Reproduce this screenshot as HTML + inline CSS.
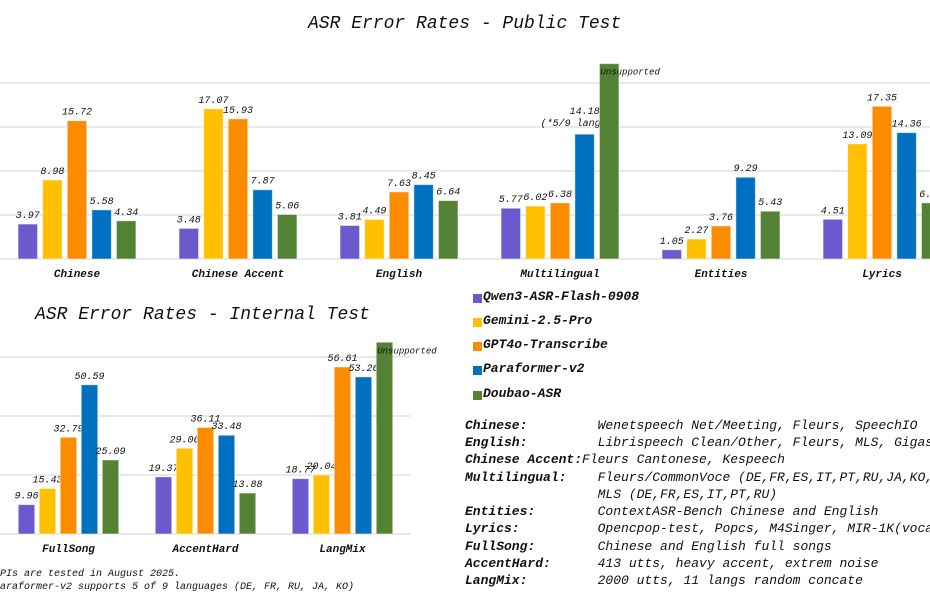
<!DOCTYPE html>
<html><head><meta charset="utf-8">
<style>
html,body{margin:0;padding:0;background:#fff;}
body{width:930px;height:602px;overflow:hidden;position:relative;font-family:"Liberation Mono",monospace;font-style:italic;color:#111;}
.abs{position:absolute;white-space:pre;}
.title{font-size:18px;}
.leg{font-size:13px;font-weight:bold;}
.sw{position:absolute;width:9px;height:9px;}
.desc{font-size:13px;}
.foot{font-size:10px;}
</style></head><body>
<div class="abs title" style="left:308px;top:14px;">ASR Error Rates - Public Test</div>
<div class="abs title" style="left:35px;top:305px;">ASR Error Rates - Internal Test</div>
<svg id="chart" width="930" height="602" style="position:absolute;left:0;top:0"></svg>

<div>
<div class="sw" style="left:473px;top:294px;background:#6a5acd"></div><div class="abs leg" style="left:483px;top:289px;">Qwen3-ASR-Flash-0908</div>
<div class="sw" style="left:473px;top:318px;background:#ffc000"></div><div class="abs leg" style="left:483px;top:313px;">Gemini-2.5-Pro</div>
<div class="sw" style="left:473px;top:342px;background:#fb8c00"></div><div class="abs leg" style="left:483px;top:337px;">GPT4o-Transcribe</div>
<div class="sw" style="left:473px;top:366px;background:#0070c0"></div><div class="abs leg" style="left:483px;top:361px;">Paraformer-v2</div>
<div class="sw" style="left:473px;top:391px;background:#548235"></div><div class="abs leg" style="left:483px;top:386px;">Doubao-ASR</div>
</div>

<div>
<div class="abs desc" style="left:465px;top:418px;"><b>Chinese:</b>         Wenetspeech Net/Meeting, Fleurs, SpeechIO</div>
<div class="abs desc" style="left:465px;top:435px;"><b>English:</b>         Librispeech Clean/Other, Fleurs, MLS, Gigaspeech</div>
<div class="abs desc" style="left:465px;top:452px;"><b>Chinese Accent:</b>Fleurs Cantonese, Kespeech</div>
<div class="abs desc" style="left:465px;top:470px;"><b>Multilingual:</b>    Fleurs/CommonVoce (DE,FR,ES,IT,PT,RU,JA,KO,AR)</div>
<div class="abs desc" style="left:465px;top:487px;">                 MLS (DE,FR,ES,IT,PT,RU)</div>
<div class="abs desc" style="left:465px;top:504px;"><b>Entities:</b>        ContextASR-Bench Chinese and English</div>
<div class="abs desc" style="left:465px;top:521px;"><b>Lyrics:</b>          Opencpop-test, Popcs, M4Singer, MIR-1K(vocal)</div>
<div class="abs desc" style="left:465px;top:539px;"><b>FullSong:</b>        Chinese and English full songs</div>
<div class="abs desc" style="left:465px;top:556px;"><b>AccentHard:</b>      413 utts, heavy accent, extrem noise</div>
<div class="abs desc" style="left:465px;top:573px;"><b>LangMix:</b>         2000 utts, 11 langs random concate</div>
</div>

<div class="abs foot" style="left:-6px;top:569px;">APIs are tested in August 2025.</div>
<div class="abs foot" style="left:-12px;top:582px;">*Paraformer-v2 supports 5 of 9 languages (DE, FR, RU, JA, KO)</div>

<script>
const colors=["#6a5acd","#ffc000","#fb8c00","#0070c0","#548235"];
const seriesNames=["qwen","gemini","gpt4o","paraformer","doubao"];
const pubCategories=["Chinese","Chinese Accent","English","Multilingual","Entities","Lyrics"];
const pubQwen=[3.97,3.48,3.81,5.77,1.05,4.51];
const pubGemini=[8.98,17.07,4.49,6.02,2.27,13.09];
const pubGpt4o=[15.72,15.93,7.63,6.38,3.76,17.35];
const pubParaformer=[5.58,7.87,8.45,14.18,9.29,14.36];
const pubDoubao=[4.34,5.06,6.64,null,5.43,6.38];
const pubTicks=[0,5,10,15,20];
const pubUnsupportedValue=22.2;
const intCategories=["FullSong","AccentHard","LangMix"];
const intQwen=[9.96,19.37,18.77];
const intGemini=[15.43,29.06,20.04];
const intGpt4o=[32.79,36.11,56.61];
const intParaformer=[50.59,33.48,53.26];
const intDoubao=[25.09,13.88,null];
const intTicks=[0,20,40,60];
const intUnsupportedValue=65;

const svg=document.getElementById('chart');
const NS="http://www.w3.org/2000/svg";
function mk(tag,attrs){const e=document.createElementNS(NS,tag);for(const k in attrs)e.setAttribute(k,attrs[k]);svg.appendChild(e);return e;}

function drawChart(cfg){
  const series=cfg.series;
  const n=cfg.categories.length;
  const step=(cfg.x1-cfg.x0)/n;
  const xc=i=>cfg.x0+step*(i+0.5);
  const y=v=>cfg.base-(v/cfg.yMax)*(cfg.base-cfg.top);
  cfg.ticks.forEach(t=>{
    const l=mk('line',{x1:0,x2:cfg.gridEnd,y1:y(t),y2:y(t),stroke:'#dcdcdc','stroke-width':1.2});
    
    
  });
  cfg.categories.forEach((c,i)=>{
    series.forEach((arr,j)=>{
      const unsup=arr[i]===null;
      const v=unsup?cfg.unsup:arr[i];
      const cx=xc(i)+(j-2)*cfg.pitch;
      const r=mk('rect',{x:cx-cfg.bw/2,y:y(v),width:cfg.bw,height:cfg.base-y(v),fill:colors[j],stroke:'rgba(255,255,255,0.5)','stroke-width':1});
      
      
      if(unsup){
        const t=mk('text',{x:cx-cfg.bw/2+1,y:y(v)+11,'font-size':9,'font-style':'italic','font-family':'Liberation Mono, monospace',fill:'#111'});
        t.textContent='Unsupported';
        
        
      }else{
        const t=mk('text',{x:cx,y:y(v)-6,'font-size':10,'font-style':'italic','text-anchor':'middle','font-family':'Liberation Mono, monospace',fill:'#111'});
        t.textContent=arr[i].toFixed(2);
        
        
        if(cfg.note && cfg.note.i===i && cfg.note.j===j){
          t.setAttribute('y',y(v)-20);
          const t2=mk('text',{x:cx-8,y:y(v)-8,'font-size':10,'font-style':'italic','text-anchor':'middle','font-family':'Liberation Mono, monospace',fill:'#111'});
          t2.textContent=cfg.note.text;
          
          
        }
      }
    });
    const ct=mk('text',{x:xc(i),y:cfg.base+18,'font-size':11,'font-weight':'bold','font-style':'italic','text-anchor':'middle','font-family':'Liberation Mono, monospace',fill:'#111'});
    ct.textContent=c;
    
    
  });
}

drawChart({prefix:'public',categories:pubCategories,series:[pubQwen,pubGemini,pubGpt4o,pubParaformer,pubDoubao],
  ticks:pubTicks,yMax:20,base:259,top:83,x0:-3.5,x1:962.5,pitch:24.6,bw:19.5,gridEnd:930,unsup:pubUnsupportedValue,
  note:{i:3,j:3,text:'(*5/9 langs)'}});
drawChart({prefix:'internal',categories:intCategories,series:[intQwen,intGemini,intGpt4o,intParaformer,intDoubao],
  ticks:intTicks,yMax:60,base:534,top:357,x0:0,x1:411,pitch:21,bw:16.5,gridEnd:410,unsup:intUnsupportedValue});
</script>
</body></html>
